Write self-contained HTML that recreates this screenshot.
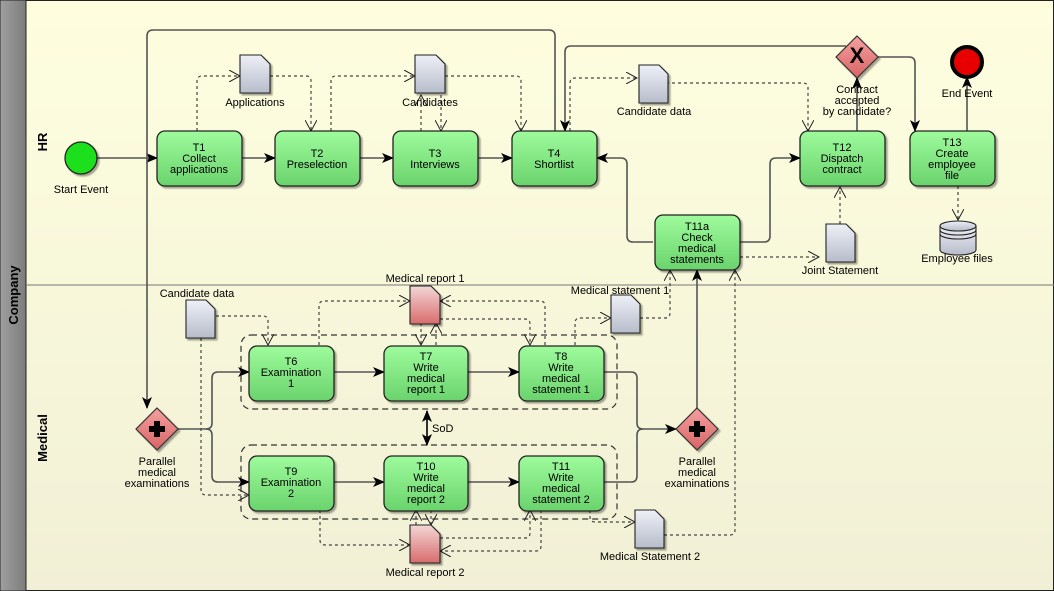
<!DOCTYPE html>
<html><head><meta charset="utf-8"><style>
html,body{margin:0;padding:0;background:#fff;}
svg{display:block;font-family:"Liberation Sans",sans-serif;}
</style></head><body>
<svg width="1054" height="591" viewBox="0 0 1054 591" xmlns="http://www.w3.org/2000/svg">
<defs>
<linearGradient id="bg" x1="0" y1="0" x2="0" y2="1"><stop offset="0" stop-color="#fefedf"/><stop offset="1" stop-color="#f1f0d6"/></linearGradient>
<linearGradient id="pool" x1="0" y1="0" x2="1" y2="0"><stop offset="0" stop-color="#a0a0a0"/><stop offset="1" stop-color="#7c7c7c"/></linearGradient>
<linearGradient id="task" x1="0" y1="0" x2="0" y2="1"><stop offset="0" stop-color="#9efb9c"/><stop offset="1" stop-color="#6ad36c"/></linearGradient>
<linearGradient id="doc" x1="0" y1="0" x2="0" y2="1"><stop offset="0" stop-color="#eef0f7"/><stop offset="1" stop-color="#b7bcca"/></linearGradient>
<linearGradient id="rdoc" x1="0" y1="0" x2="0" y2="1"><stop offset="0" stop-color="#f3d6d6"/><stop offset="1" stop-color="#d86c6c"/></linearGradient>
<linearGradient id="gw" x1="0" y1="0" x2="0" y2="1"><stop offset="0" stop-color="#f5a0a0"/><stop offset="1" stop-color="#d86464"/></linearGradient>
<marker id="fa" viewBox="0 0 12 10" refX="11" refY="5" markerWidth="12" markerHeight="10" markerUnits="userSpaceOnUse" orient="auto"><path d="M0,0 L12,5 L0,10 L3,5 z" fill="#000"/></marker>
<marker id="oa" viewBox="0 0 12 12" refX="11" refY="6" markerWidth="12" markerHeight="12" markerUnits="userSpaceOnUse" orient="auto"><path d="M0,0 L11,6 L0,12" fill="none" stroke="#222" stroke-width="1"/></marker>
<marker id="fas" viewBox="0 0 12 10" refX="1" refY="5" markerWidth="12" markerHeight="10" markerUnits="userSpaceOnUse" orient="auto"><path d="M12,0 L0,5 L12,10 L9,5 z" fill="#000"/></marker>
<filter id="sh" x="-10%" y="-10%" width="130%" height="130%"><feDropShadow dx="2" dy="2" stdDeviation="0.8" flood-color="#000" flood-opacity="0.35"/></filter>
</defs>
<rect x="0" y="0" width="1054" height="591" fill="url(#bg)"/>
<rect x="0.5" y="0.5" width="1053" height="590" fill="none" stroke="#222"/>
<rect x="0" y="0" width="26" height="591" fill="url(#pool)" stroke="#222"/>
<line x1="26" y1="285" x2="1054" y2="285" stroke="#777"/>
<text transform="translate(18,295) rotate(-90)" text-anchor="middle" font-size="13" font-weight="bold">Company</text>
<text transform="translate(47,142) rotate(-90)" text-anchor="middle" font-size="13" font-weight="bold">HR</text>
<text transform="translate(47,438) rotate(-90)" text-anchor="middle" font-size="13" font-weight="bold">Medical</text>

<!-- dashed groups -->
<g fill="none" stroke="#333" stroke-dasharray="6,4" stroke-width="1.2">
<rect x="241" y="335" width="376" height="74" rx="10"/>
<rect x="241" y="445" width="376" height="74" rx="10"/>
</g>

<!-- solid flows -->
<g fill="none" stroke="#555" stroke-width="1.6">
<path d="M97,158 H157" marker-end="url(#fa)"/>
<path d="M242,158 H275" marker-end="url(#fa)"/>
<path d="M360,158 H393" marker-end="url(#fa)"/>
<path d="M478,158 H512" marker-end="url(#fa)"/>
<path d="M555,131 V36 Q555,30 549,30 H153 Q147,30 147,36 V408" marker-end="url(#fa)"/>
<path d="M846,46 H571 Q565,46 565,52 V131" marker-end="url(#fa)"/>
<path d="M878,57 H909 Q915,57 915,63 V131" marker-end="url(#fa)"/>
<path d="M857,131 V78" marker-end="url(#fa)"/>
<path d="M967,131 V77" marker-end="url(#fa)"/>
<path d="M653,242 H633 Q627,242 627,236 V164 Q627,158 621,158 H597" marker-end="url(#fa)"/>
<path d="M740,242 H764 Q770,242 770,236 V164 Q770,158 776,158 H800" marker-end="url(#fa)"/>
<path d="M697,408 V270" marker-end="url(#fa)"/>
<path d="M178,429 H206 Q212,429 212,423 V378 Q212,372 218,372 H249" marker-end="url(#fa)"/>
<path d="M206,429 Q212,429 212,435 V476 Q212,482 218,482 H249" marker-end="url(#fa)"/>
<path d="M334,372 H384" marker-end="url(#fa)"/>
<path d="M468,372 H519" marker-end="url(#fa)"/>
<path d="M334,482 H384" marker-end="url(#fa)"/>
<path d="M468,482 H519" marker-end="url(#fa)"/>
<path d="M604,372 H631 Q637,372 637,378 V423 Q637,429 643,429 H676" marker-end="url(#fa)"/>
<path d="M604,482 H631 Q637,482 637,476 V435 Q637,429 643,429"/>
</g>
<path d="M427,411 V445" stroke="#000" stroke-width="1.6" marker-end="url(#fa)" marker-start="url(#fas)"/>
<text x="432" y="432" font-size="11">SoD</text>

<!-- dashed associations -->
<g fill="none" stroke="#444" stroke-width="1.2" stroke-dasharray="3,3">
<path d="M197,131 V81 Q197,76 202,76 H240" marker-end="url(#oa)"/>
<path d="M270,76 H306 Q311,76 311,81 V131" marker-end="url(#oa)"/>
<path d="M331,131 V81 Q331,76 336,76 H415" marker-end="url(#oa)"/>
<path d="M445,76 H516 Q521,76 521,81 V131" marker-end="url(#oa)"/>
<path d="M421,131 V95" marker-end="url(#oa)"/>
<path d="M441,95 V131" marker-end="url(#oa)"/>
<path d="M570,131 V83 Q570,78 575,78 H637" marker-end="url(#oa)"/>
<path d="M666,83 H803 Q808,83 808,88 V131" marker-end="url(#oa)"/>
<path d="M840,224 V187" marker-end="url(#oa)"/>
<path d="M740,257 H819" marker-end="url(#oa)"/>
<path d="M958,186 V220" marker-end="url(#oa)"/>
<path d="M216,316 H263 Q268,316 268,321 V345" marker-end="url(#oa)"/>
<path d="M201,338 V490 Q201,495 206,495 H249" marker-end="url(#oa)"/>
<path d="M319,345 V306 Q319,301 324,301 H410" marker-end="url(#oa)"/>
<path d="M545,345 V306 Q545,301 540,301 H440" marker-end="url(#oa)"/>
<path d="M440,319 H525 Q530,319 530,324 V345" marker-end="url(#oa)"/>
<path d="M421,323 V345" marker-end="url(#oa)"/>
<path d="M436,345 V323" marker-end="url(#oa)"/>
<path d="M575,345 V323 Q575,318 580,318 H611" marker-end="url(#oa)"/>
<path d="M640,318 H665 Q670,318 670,313 V270" marker-end="url(#oa)"/>
<path d="M664,535 H730 Q735,535 735,530 V270" marker-end="url(#oa)"/>
<path d="M590,510 V517 Q590,522 595,522 H635" marker-end="url(#oa)"/>
<path d="M320,510 V540 Q320,545 325,545 H410" marker-end="url(#oa)"/>
<path d="M541,510 V546 Q541,551 536,551 H440" marker-end="url(#oa)"/>
<path d="M440,538 H525 Q530,538 530,533 V510" marker-end="url(#oa)"/>
<path d="M416,525 V510" marker-end="url(#oa)"/>
<path d="M431,510 V525" marker-end="url(#oa)"/>
</g>

<!-- events -->
<circle cx="81" cy="158" r="16" fill="#1ee01a" stroke="#222" stroke-width="1.3" filter="url(#sh)"/>
<text x="81" y="193" font-size="11" text-anchor="middle">Start Event</text>
<circle cx="967" cy="62" r="15" fill="#e80000" stroke="#000" stroke-width="4"/>
<text x="967" y="97" font-size="11" text-anchor="middle">End Event</text>

<!-- gateways -->
<g stroke="#333" stroke-width="1.2" fill="url(#gw)">
<path d="M857,36 L878,57 L857,78 L836,57 z" filter="url(#sh)"/>
<path d="M157,408 L178,429 L157,450 L136,429 z" filter="url(#sh)"/>
<path d="M697,408 L718,429 L697,450 L676,429 z" filter="url(#sh)"/>
</g>
<text x="857" y="63" font-size="22" text-anchor="middle" font-weight="bold">X</text>
<g fill="#000"><rect x="154" y="421" width="6" height="16"/><rect x="149" y="426" width="16" height="6"/>
<rect x="694" y="421" width="6" height="16"/><rect x="689" y="426" width="16" height="6"/></g>
<g font-size="11" text-anchor="middle">
<text x="857" y="93">Contract</text><text x="857" y="104">accepted</text><text x="857" y="115">by candidate?</text>
<text x="157" y="465">Parallel</text><text x="157" y="476">medical</text><text x="157" y="487">examinations</text>
<text x="697" y="465">Parallel</text><text x="697" y="476">medical</text><text x="697" y="487">examinations</text>
</g>

<!-- documents -->
<g stroke="#222" stroke-width="1.1" filter="url(#sh)">
<path d="M240,55 H261 L270,64 V93 H240 z" fill="url(#doc)"/>
<path d="M415,55 H436 L445,64 V93 H415 z" fill="url(#doc)"/>
<path d="M639,65 H659 L668,74 V103 H639 z" fill="url(#doc)"/>
<path d="M826,224 H846 L855,233 V262 H826 z" fill="url(#doc)"/>
<path d="M186,300 H206 L215,309 V338 H186 z" fill="url(#doc)"/>
<path d="M410,286 H431 L440,295 V324 H410 z" fill="url(#rdoc)"/>
<path d="M611,295 H631 L640,304 V333 H611 z" fill="url(#doc)"/>
<path d="M410,525 H431 L440,534 V563 H410 z" fill="url(#rdoc)"/>
<path d="M635,510 H655 L664,519 V548 H635 z" fill="url(#doc)"/>
</g>
<g stroke="#222" stroke-width="1.1" fill="url(#doc)">
<path d="M940,226 V250 A18,5 0 0 0 976,250 V226" />
<ellipse cx="958" cy="226" rx="18" ry="5"/>
<path d="M940,230 A18,5 0 0 0 976,230 M940,234 A18,5 0 0 0 976,234" fill="none"/>
</g>
<g font-size="11" text-anchor="middle">
<text x="255" y="106">Applications</text>
<text x="430" y="106">Candidates</text>
<text x="654" y="115">Candidate data</text>
<text x="840" y="274">Joint Statement</text>
<text x="957" y="262">Employee files</text>
<text x="197" y="297">Candidate data</text>
<text x="425" y="282">Medical report 1</text>
<text x="620" y="294">Medical statement 1</text>
<text x="425" y="576">Medical report 2</text>
<text x="650" y="560">Medical Statement 2</text>
</g>

<!-- tasks -->
<g fill="url(#task)" stroke="#222" stroke-width="1.3" filter="url(#sh)">
<rect x="157" y="131" width="85" height="55" rx="8"/>
<rect x="275" y="131" width="85" height="55" rx="8"/>
<rect x="393" y="131" width="85" height="55" rx="8"/>
<rect x="512" y="131" width="85" height="55" rx="8"/>
<rect x="800" y="131" width="85" height="55" rx="8"/>
<rect x="910" y="131" width="85" height="55" rx="8"/>
<rect x="655" y="215" width="85" height="55" rx="8"/>
<rect x="249" y="346" width="85" height="55" rx="8"/>
<rect x="384" y="346" width="84" height="55" rx="8"/>
<rect x="519" y="346" width="85" height="55" rx="8"/>
<rect x="249" y="456" width="85" height="55" rx="8"/>
<rect x="384" y="456" width="84" height="55" rx="8"/>
<rect x="519" y="456" width="85" height="55" rx="8"/>
</g>
<g font-size="11" text-anchor="middle" fill="#000">
<text x="199" y="151">T1</text><text x="199" y="162">Collect</text><text x="199" y="173">applications</text>
<text x="317" y="157">T2</text><text x="317" y="168">Preselection</text>
<text x="435" y="157">T3</text><text x="435" y="168">Interviews</text>
<text x="554" y="157">T4</text><text x="554" y="168">Shortlist</text>
<text x="842" y="151">T12</text><text x="842" y="162">Dispatch</text><text x="842" y="173">contract</text>
<text x="952" y="146">T13</text><text x="952" y="157">Create</text><text x="952" y="168">employee</text><text x="952" y="179">file</text>
<text x="697" y="230">T11a</text><text x="697" y="241">Check</text><text x="697" y="252">medical</text><text x="697" y="263">statements</text>
<text x="291" y="365">T6</text><text x="291" y="376">Examination</text><text x="291" y="387">1</text>
<text x="426" y="360">T7</text><text x="426" y="371">Write</text><text x="426" y="382">medical</text><text x="426" y="393">report 1</text>
<text x="561" y="360">T8</text><text x="561" y="371">Write</text><text x="561" y="382">medical</text><text x="561" y="393">statement 1</text>
<text x="291" y="475">T9</text><text x="291" y="486">Examination</text><text x="291" y="497">2</text>
<text x="426" y="470">T10</text><text x="426" y="481">Write</text><text x="426" y="492">medical</text><text x="426" y="503">report 2</text>
<text x="561" y="470">T11</text><text x="561" y="481">Write</text><text x="561" y="492">medical</text><text x="561" y="503">statement 2</text>
</g>
</svg>
</body></html>
